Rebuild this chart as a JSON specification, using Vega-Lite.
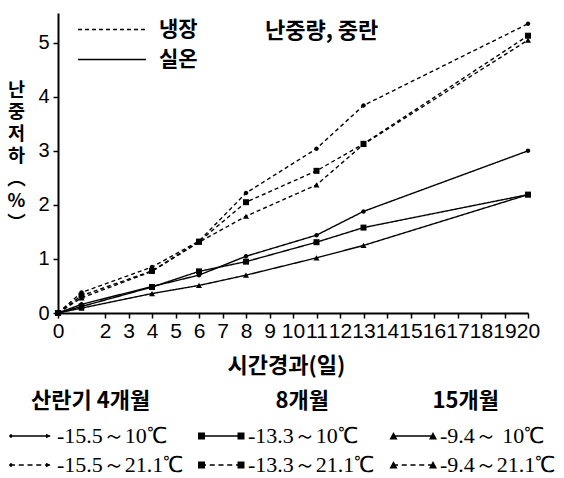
{
  "$schema": "https://vega.github.io/schema/vega-lite/v6.json",
  "width": 470,
  "height": 300,
  "autosize": {"type": "none"},
  "padding": {"left": 58, "top": 13, "right": 36, "bottom": 165},
  "background": "white",
  "title": {"text": "난중량, 중란", "anchor": "start", "frame": "group", "dx": 207, "offset": -40, "baseline": "middle", "font": "Noto Sans CJK KR", "fontSize": 22, "fontWeight": "bold", "color": "black"},
  "config": {
    "view": {"stroke": null},
    "axis": {"grid": false, "domainColor": "black", "tickColor": "black", "labelColor": "black", "titleColor": "black"}
  },
  "data": {"values": [
    {"day": 0, "loss": 0, "storage": "냉장", "age": "4개월", "series": "-15.5～21.1℃"},
    {"day": 1, "loss": 0.38, "storage": "냉장", "age": "4개월", "series": "-15.5～21.1℃"},
    {"day": 4, "loss": 0.85, "storage": "냉장", "age": "4개월", "series": "-15.5～21.1℃"},
    {"day": 6, "loss": 1.33, "storage": "냉장", "age": "4개월", "series": "-15.5～21.1℃"},
    {"day": 8, "loss": 2.22, "storage": "냉장", "age": "4개월", "series": "-15.5～21.1℃"},
    {"day": 11, "loss": 3.04, "storage": "냉장", "age": "4개월", "series": "-15.5～21.1℃"},
    {"day": 13, "loss": 3.84, "storage": "냉장", "age": "4개월", "series": "-15.5～21.1℃"},
    {"day": 20, "loss": 5.35, "storage": "냉장", "age": "4개월", "series": "-15.5～21.1℃"},
    {"day": 0, "loss": 0, "storage": "냉장", "age": "8개월", "series": "-13.3～21.1℃"},
    {"day": 1, "loss": 0.32, "storage": "냉장", "age": "8개월", "series": "-13.3～21.1℃"},
    {"day": 4, "loss": 0.78, "storage": "냉장", "age": "8개월", "series": "-13.3～21.1℃"},
    {"day": 6, "loss": 1.32, "storage": "냉장", "age": "8개월", "series": "-13.3～21.1℃"},
    {"day": 8, "loss": 2.05, "storage": "냉장", "age": "8개월", "series": "-13.3～21.1℃"},
    {"day": 11, "loss": 2.63, "storage": "냉장", "age": "8개월", "series": "-13.3～21.1℃"},
    {"day": 13, "loss": 3.13, "storage": "냉장", "age": "8개월", "series": "-13.3～21.1℃"},
    {"day": 20, "loss": 5.13, "storage": "냉장", "age": "8개월", "series": "-13.3～21.1℃"},
    {"day": 0, "loss": 0, "storage": "냉장", "age": "15개월", "series": "-9.4～21.1℃"},
    {"day": 1, "loss": 0.28, "storage": "냉장", "age": "15개월", "series": "-9.4～21.1℃"},
    {"day": 4, "loss": 0.77, "storage": "냉장", "age": "15개월", "series": "-9.4～21.1℃"},
    {"day": 6, "loss": 1.31, "storage": "냉장", "age": "15개월", "series": "-9.4～21.1℃"},
    {"day": 8, "loss": 1.79, "storage": "냉장", "age": "15개월", "series": "-9.4～21.1℃"},
    {"day": 11, "loss": 2.37, "storage": "냉장", "age": "15개월", "series": "-9.4～21.1℃"},
    {"day": 13, "loss": 3.12, "storage": "냉장", "age": "15개월", "series": "-9.4～21.1℃"},
    {"day": 20, "loss": 5.05, "storage": "냉장", "age": "15개월", "series": "-9.4～21.1℃"},
    {"day": 0, "loss": 0, "storage": "실온", "age": "4개월", "series": "-15.5～10℃"},
    {"day": 1, "loss": 0.16, "storage": "실온", "age": "4개월", "series": "-15.5～10℃"},
    {"day": 4, "loss": 0.49, "storage": "실온", "age": "4개월", "series": "-15.5～10℃"},
    {"day": 6, "loss": 0.70, "storage": "실온", "age": "4개월", "series": "-15.5～10℃"},
    {"day": 8, "loss": 1.05, "storage": "실온", "age": "4개월", "series": "-15.5～10℃"},
    {"day": 11, "loss": 1.44, "storage": "실온", "age": "4개월", "series": "-15.5～10℃"},
    {"day": 13, "loss": 1.88, "storage": "실온", "age": "4개월", "series": "-15.5～10℃"},
    {"day": 20, "loss": 3.0, "storage": "실온", "age": "4개월", "series": "-15.5～10℃"},
    {"day": 0, "loss": 0, "storage": "실온", "age": "8개월", "series": "-13.3～10℃"},
    {"day": 1, "loss": 0.12, "storage": "실온", "age": "8개월", "series": "-13.3～10℃"},
    {"day": 4, "loss": 0.48, "storage": "실온", "age": "8개월", "series": "-13.3～10℃"},
    {"day": 6, "loss": 0.77, "storage": "실온", "age": "8개월", "series": "-13.3～10℃"},
    {"day": 8, "loss": 0.95, "storage": "실온", "age": "8개월", "series": "-13.3～10℃"},
    {"day": 11, "loss": 1.31, "storage": "실온", "age": "8개월", "series": "-13.3～10℃"},
    {"day": 13, "loss": 1.58, "storage": "실온", "age": "8개월", "series": "-13.3～10℃"},
    {"day": 20, "loss": 2.19, "storage": "실온", "age": "8개월", "series": "-13.3～10℃"},
    {"day": 0, "loss": 0, "storage": "실온", "age": "15개월", "series": "-9.4～ 10℃"},
    {"day": 1, "loss": 0.09, "storage": "실온", "age": "15개월", "series": "-9.4～ 10℃"},
    {"day": 4, "loss": 0.36, "storage": "실온", "age": "15개월", "series": "-9.4～ 10℃"},
    {"day": 6, "loss": 0.51, "storage": "실온", "age": "15개월", "series": "-9.4～ 10℃"},
    {"day": 8, "loss": 0.70, "storage": "실온", "age": "15개월", "series": "-9.4～ 10℃"},
    {"day": 11, "loss": 1.02, "storage": "실온", "age": "15개월", "series": "-9.4～ 10℃"},
    {"day": 13, "loss": 1.25, "storage": "실온", "age": "15개월", "series": "-9.4～ 10℃"},
    {"day": 20, "loss": 2.19, "storage": "실온", "age": "15개월", "series": "-9.4～ 10℃"}
  ]},
  "encoding": {
    "x": {"field": "day", "type": "quantitative", "scale": {"domain": [0, 20]},
      "axis": {"values": [0, 2, 3, 4, 5, 6, 7, 8, 9, 10, 11, 12, 13, 14, 15, 16, 17, 18, 19, 20],
        "title": "시간경과(일)", "titleFont": "Noto Sans CJK KR", "titleFontSize": 22, "titleFontWeight": "bold", "titlePadding": 14, "titleX": 228,
        "labelFont": "Liberation Sans", "labelFontSize": 21, "labelPadding": 2, "labelOverlap": false, "labelFlush": false,
        "tickSize": 5, "tickWidth": 1.5, "domainWidth": 2}},
    "y": {"field": "loss", "type": "quantitative", "scale": {"domain": [0, 5.55]},
      "axis": {"values": [0, 1, 2, 3, 4, 5],
        "title": ["난", "중", "저", "하", "︵", "%", "︶"], "titleAngle": 0, "titleAlign": "center", "titleBaseline": "top",
        "titleX": -42, "titleY": 67, "titleFont": "Noto Sans CJK KR", "titleFontSize": 18.5, "titleFontWeight": "bold", "titleLineHeight": 22.3,
        "labelFont": "Liberation Sans", "labelFontSize": 20, "labelPadding": 4,
        "tickSize": 5, "tickWidth": 1.5, "domainWidth": 2}}
  },
  "layer": [
    {
      "mark": {"type": "line", "color": "black", "strokeWidth": 1.4},
      "encoding": {
        "detail": {"field": "series"},
        "strokeDash": {"field": "storage", "type": "nominal",
          "scale": {"domain": ["냉장", "실온"], "range": [[4, 3], [1, 0]]},
          "legend": {"orient": "none", "legendX": 18, "legendY": 6, "title": null, "padding": 0,
            "symbolType": "M-1,0H7", "symbolSize": 289, "symbolStrokeColor": "black", "symbolStrokeWidth": 1.4,
            "labelFont": "Noto Sans CJK KR", "labelFontSize": 21, "labelFontWeight": "bold", "labelColor": "black",
            "labelOffset": 62, "rowPadding": 8}}
      }
    },
    {
      "mark": {"type": "point", "filled": true, "color": "black", "opacity": 1, "size": 36},
      "encoding": {
        "shape": {"field": "age", "type": "nominal",
          "scale": {"domain": ["4개월", "8개월", "15개월"], "range": ["M0,-0.75A0.75,0.75 0 1,1 0,0.75A0.75,0.75 0 1,1 0,-0.75Z", "square", "triangle-up"]},
          "legend": null}
      }
    },
    {
      "transform": [{"filter": "datum.day < 0"}],
      "mark": {"type": "point", "filled": true, "fill": "black", "opacity": 1, "size": 400},
      "encoding": {
        "shape": {"field": "series", "type": "nominal",
          "scale": {"domain": ["-15.5～10℃", "-15.5～21.1℃", "-13.3～10℃", "-13.3～21.1℃", "-9.4～ 10℃", "-9.4～21.1℃"],
            "range": [
              "M-1,-0.07H3V0.07H-1ZM-0.9,-0.22L-0.68,0L-0.9,0.22L-1.12,0ZM2.6,-0.22L3.1,0L2.6,0.22Z",
              "M-1,-0.07h0.5v0.14h-0.5ZM-0.125,-0.07h0.5v0.14h-0.5ZM0.75,-0.07h0.5v0.14h-0.5ZM1.625,-0.07h0.5v0.14h-0.5ZM2.5,-0.07h0.5v0.14h-0.5ZM-0.9,-0.22L-0.68,0L-0.9,0.22L-1.12,0ZM2.6,-0.22L3.1,0L2.6,0.22Z",
              "M-1,-0.07H3V0.07H-1ZM-1.3,-0.35h0.7v0.7h-0.7ZM2.65,-0.35h0.7v0.7h-0.7Z",
              "M-1,-0.07h0.5v0.14h-0.5ZM-0.125,-0.07h0.5v0.14h-0.5ZM0.75,-0.07h0.5v0.14h-0.5ZM1.625,-0.07h0.5v0.14h-0.5ZM2.5,-0.07h0.5v0.14h-0.5ZM-1.3,-0.35h0.7v0.7h-0.7ZM2.65,-0.35h0.7v0.7h-0.7Z",
              "M-1,-0.07H3V0.07H-1ZM-1.35,0.35L-0.95,-0.4L-0.55,0.35ZM2.6,0.35L3,-0.4L3.4,0.35Z",
              "M-1,-0.07h0.5v0.14h-0.5ZM-0.125,-0.07h0.5v0.14h-0.5ZM0.75,-0.07h0.5v0.14h-0.5ZM1.625,-0.07h0.5v0.14h-0.5ZM2.5,-0.07h0.5v0.14h-0.5ZM-1.35,0.35L-0.95,-0.4L-0.55,0.35ZM2.6,0.35L3,-0.4L3.4,0.35Z"
            ]},
          "legend": {"orient": "none", "legendX": -49, "legendY": 378, "columns": 3, "padding": 0,
            "title": "\u200b\u3000산란기 4개월\u3000\u3000\u3000\u3000\u3000\u2002\u20098개월\u3000\u3000\u3000\u3000\u2002\u200915개월",
            "titleFont": "Noto Sans CJK KR", "titleFontSize": 22, "titleFontWeight": "bold", "titleColor": "black", "titlePadding": 12, "titleLimit": 600,
            "symbolSize": 400, "symbolOpacity": 1, "symbolFillColor": "black", "symbolStrokeColor": "black", "symbolStrokeWidth": 0,
            "labelFont": "Liberation Serif", "labelFontSize": 22, "labelColor": "black", "labelOffset": 26, "labelLimit": 300,
            "columnPadding": 12, "rowPadding": 7}}
      }
    }
  ],
  "resolve": {"scale": {"shape": "independent"}, "legend": {"shape": "independent"}}
}
